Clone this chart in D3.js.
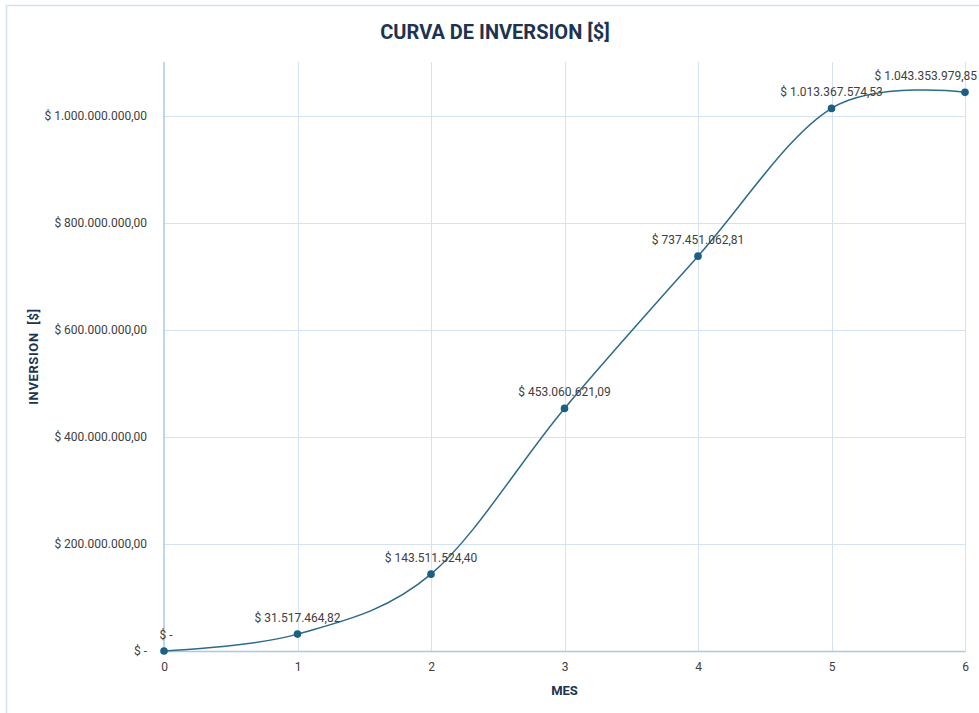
<!DOCTYPE html>
<html>
<head>
<meta charset="utf-8">
<script src="https://cdn.jsdelivr.net/npm/d3@7"></script>
<style>
  html, body { margin: 0; padding: 0; background: #ffffff; }
  svg { display: block; font-family: Roboto, "Liberation Sans", sans-serif; }
</style>
</head>
<body>
<svg id="chart" width="979" height="713"></svg>
<script>
// Monthly cumulative investment
const months = [0, 1, 2, 3, 4, 5, 6];
const investment = [0, 31517464.82, 143511524.40, 453060621.09, 737451062.81, 1013367574.53, 1043353979.85];
const yTicks = [0, 200000000, 400000000, 600000000, 800000000, 1000000000];

const W = 979, H = 713;
const margin = { left: 164, right: 14, top: 62, bottom: 62 };

const svg = d3.select("#chart");

// outer chart frame
svg.append("rect")
  .attr("x", 6.5).attr("y", 5.5)
  .attr("width", W + 20).attr("height", H + 20)
  .attr("fill", "#ffffff")
  .attr("stroke", "#d5e3f0").attr("stroke-width", 1.5);

const x = d3.scaleLinear().domain([0, 6]).range([margin.left, W - margin.right]);
const y = d3.scaleLinear().domain([0, 1100000000]).range([H - margin.bottom, margin.top]);

// Spanish-style currency format: $ 1.234.567,89
const es = d3.formatLocale({ decimal: ",", thousands: ".", grouping: [3], currency: ["$ ", ""] });
const fmtMoney = v => v === 0 ? "$ -" : "$ " + es.format(",.2f")(v);

// gridlines
const grid = svg.append("g");
grid.selectAll("line.h").data(yTicks.filter(d => d > 0)).join("line")
  .attr("x1", x(0)).attr("x2", x(6))
  .attr("y1", d => Math.round(y(d)) + 0.5).attr("y2", d => Math.round(y(d)) + 0.5)
  .attr("stroke", "#d3e3f1").attr("stroke-width", 1);
grid.selectAll("line.v").data(months.filter(d => d > 0)).join("line")
  .attr("x1", d => Math.round(x(d)) + 0.5).attr("x2", d => Math.round(x(d)) + 0.5)
  .attr("y1", y(1100000000)).attr("y2", y(0))
  .attr("stroke", "#d3e3f1").attr("stroke-width", 1);

// axes
const xAxis = svg.append("g")
  .attr("transform", `translate(0,${y(0)})`)
  .call(d3.axisBottom(x).tickValues(months).tickSize(0).tickPadding(11).tickFormat(d3.format("d")));
const yAxis = svg.append("g")
  .attr("transform", `translate(${x(0)},0)`)
  .call(d3.axisLeft(y).tickValues(yTicks).tickSize(0).tickPadding(17).tickFormat(fmtMoney));
[xAxis, yAxis].forEach(a => {
  a.select(".domain").attr("stroke", "#a9c8e6").attr("stroke-width", 1.5);
  a.selectAll("text").attr("fill", "#404040").attr("font-size", 12)
    .attr("font-family", "Roboto, 'Liberation Sans', sans-serif");
});
yAxis.select(".domain").attr("d", `M0,${y(0)}V${y(1100000000)}`);

// series line, smoothed
const pts = months.map((m, i) => [m, investment[i]]);
svg.append("path")
  .datum(pts)
  .attr("fill", "none")
  .attr("stroke", "#2c6a88")
  .attr("stroke-width", 1.5)
  .attr("d", d3.line().x(d => x(d[0])).y(d => y(d[1])).curve(d3.curveCatmullRom.alpha(0)));

svg.selectAll("circle.pt").data(pts).join("circle")
  .attr("cx", d => x(d[0])).attr("cy", d => y(d[1]))
  .attr("r", 3.8).attr("fill", "#1b5f84");

// data labels
svg.selectAll("text.lbl").data(pts).join("text")
  .attr("x", d => d[0] === 0 ? x(0) + 2 : (d[0] === 6 ? W - 2 : x(d[0])))
  .attr("y", d => y(d[1]) - 12)
  .attr("text-anchor", d => d[0] === 6 ? "end" : "middle")
  .attr("font-size", 12).attr("fill", "#404040")
  .text(d => fmtMoney(d[1]));

// titles
svg.append("text")
  .attr("x", 495).attr("y", 39)
  .attr("text-anchor", "middle")
  .attr("font-size", 20).attr("font-weight", "bold")
  .attr("fill", "#1c3450")
  .text("CURVA DE INVERSION [$]");

svg.append("text")
  .attr("x", x(3)).attr("y", 695)
  .attr("text-anchor", "middle")
  .attr("font-size", 13).attr("font-weight", "bold")
  .attr("fill", "#1c3450")
  .text("MES");

svg.append("text")
  .attr("transform", `translate(38,${y(550000000)}) rotate(-90)`)
  .attr("text-anchor", "middle")
  .attr("font-size", 13).attr("font-weight", "bold")
  .attr("letter-spacing", 0.6)
  .attr("fill", "#1c3450")
  .attr("xml:space", "preserve")
  .text("INVERSION  [$]");
</script>
</body>
</html>
